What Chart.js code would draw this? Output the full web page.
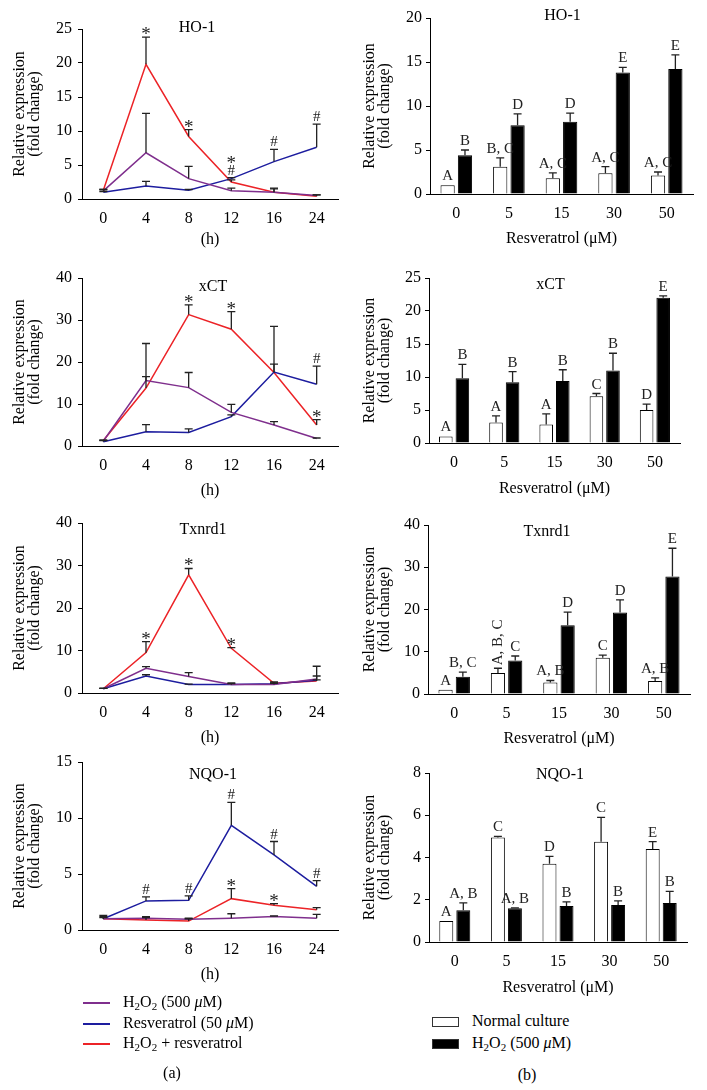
<!DOCTYPE html>
<html>
<head>
<meta charset="utf-8">
<title>Antioxidant gene expression</title>
<script src="https://cdn.jsdelivr.net/npm/chart.js@4.4.1/dist/chart.umd.min.js"></script>
<style>
  html, body { margin: 0; padding: 0; background: #fff; }
  #page { position: relative; width: 707px; height: 1090px; overflow: hidden;
          font-family: "Liberation Serif", "Times New Roman", serif; color: #000; }
  #page canvas { position: absolute; }
  .legend { position: absolute; font-size: 16px; }
  .legend .row { white-space: nowrap; }
  .legend .key { display: inline-block; vertical-align: middle; margin-right: 13px; }
  .legend .line { width: 27px; height: 0; border-top: 2px solid; }
  .legend .box { width: 25px; height: 8px; border: 1px solid #333; }
  sub { font-size: 11px; line-height: 0; vertical-align: -3px; }
  .tag { position: absolute; width: 60px; text-align: center; font-size: 16px; line-height: 20px; }
</style>
</head>
<body>
<div id="page">
  <canvas id="lineHo"></canvas>
  <canvas id="lineXct"></canvas>
  <canvas id="lineTx"></canvas>
  <canvas id="lineNqo"></canvas>
  <canvas id="barHo"></canvas>
  <canvas id="barXct"></canvas>
  <canvas id="barTx"></canvas>
  <canvas id="barNqo"></canvas>
  <div class="legend" id="legendA" style="left:83px; top:992px;"></div>
  <div class="legend" id="legendB" style="left:432px; top:1010px;"></div>
  <div class="tag" style="left:142px; top:1063px;">(a)</div>
  <div class="tag" style="left:497px; top:1065px;">(b)</div>
</div>

<script>
// ---------- (a) time course ----------
const hours = ['0', '4', '8', '12', '16', '24'];

// HO-1
const hoH2o2 = [1.2, 6.8, 3.0, 1.2, 1.0, 0.5];
const hoH2o2Err = [0.2, 5.8, 1.8, 0.4, 0.6, 0.1];
const hoRes = [1.0, 1.9, 1.3, 3.0, 5.5, 7.6];
const hoResErr = [0.1, 0.7, 0.1, 0.15, 1.8, 3.4];
const hoBoth = [1.3, 19.8, 9.2, 2.5, 1.0, 0.4];
const hoBothErr = [0.1, 4.0, 1.0, 0.3, 0.5, 0.2];
const hoResMarks = ['', '', '', '#', '#', '#'];
const hoBothMarks = ['', '*', '*', '*', '', ''];

// xCT
const xctH2o2 = [1.2, 15.6, 13.9, 8.0, 5.0, 1.8];
const xctH2o2Err = [0.2, 8.8, 3.6, 1.9, 0.8, 0.1];
const xctRes = [1.0, 3.4, 3.2, 7.0, 17.6, 14.7];
const xctResErr = [0.3, 1.7, 0.9, 0.4, 10.9, 4.3];
const xctBoth = [1.3, 13.8, 31.3, 27.8, 17.5, 5.0];
const xctBothErr = [0.1, 2.7, 2.3, 4.2, 2.0, 1.3];
const xctResMarks = ['', '', '', '', '', '#'];
const xctBothMarks = ['', '', '*', '*', '', '*'];

// Txnrd1
const txH2o2 = [1.0, 5.8, 3.9, 2.0, 2.0, 3.3];
const txH2o2Err = [0.1, 0.4, 0.9, 0.4, 0.3, 3.0];
const txRes = [1.0, 4.0, 2.0, 2.0, 2.2, 3.0];
const txResErr = [0.1, 0.3, 0.1, 0.2, 0.2, 1.0];
const txBoth = [1.0, 9.5, 27.8, 10.5, 2.3, 2.8];
const txBothErr = [0.1, 2.6, 1.5, 0.2, 0.3, 0.3];
const txResMarks = ['', '', '', '', '', ''];
const txBothMarks = ['', '*', '*', '*', '', ''];

// NQO-1
const nqoH2o2 = [1.0, 1.05, 0.95, 1.05, 1.2, 1.05];
const nqoH2o2Err = [0.3, 0.15, 0.1, 0.4, 0.05, 0.35];
const nqoRes = [1.0, 2.6, 2.65, 9.35, 6.7, 3.9];
const nqoResErr = [0.2, 0.35, 0.4, 2.05, 1.2, 0.5];
const nqoBoth = [1.0, 0.9, 0.8, 2.8, 2.2, 1.8];
const nqoBothErr = [0.1, 0.2, 0.2, 0.9, 0.15, 0.2];
const nqoResMarks = ['', '#', '#', '#', '#', '#'];
const nqoBothMarks = ['', '', '', '*', '*', ''];

// ---------- (b) resveratrol dose ----------
const doses = ['0', '5', '15', '30', '50'];

const bHoNormal = [1.0, 3.1, 1.8, 2.35, 2.1];
const bHoNormalErr = [0, 1.0, 0.6, 0.75, 0.4];
const bHoH2o2 = [4.4, 7.8, 8.2, 13.8, 14.2];
const bHoH2o2Err = [0.6, 1.3, 1.0, 0.6, 1.6];
const bHoNormalLetters = ['A', 'B, C', 'A, C', 'A, C', 'A, C'];
const bHoH2o2Letters = ['B', 'D', 'D', 'E', 'E'];

const bXctNormal = [1.0, 3.1, 2.8, 7.1, 5.0];
const bXctNormalErr = [0, 1.0, 1.6, 0.4, 0.9];
const bXctH2o2 = [9.8, 9.2, 9.4, 11.0, 22.0];
const bXctH2o2Err = [2.1, 1.6, 1.7, 2.6, 0.3];
const bXctNormalLetters = ['A', 'A', 'A', 'C', 'D'];
const bXctH2o2Letters = ['B', 'B', 'B', 'B', 'E'];

const bTxNormal = [1.0, 5.0, 2.7, 8.6, 3.1];
const bTxNormalErr = [0, 1.1, 0.5, 0.6, 0.7];
const bTxH2o2 = [4.1, 7.9, 16.3, 19.3, 27.8];
const bTxH2o2Err = [1.1, 1.1, 3.1, 3.0, 6.7];
const bTxNormalLetters = ['A', 'A, B, C', 'A, B', 'C', 'A, B'];
const bTxH2o2Letters = ['B, C', 'C', 'D', 'D', 'E'];

const bNqoNormal = [1.0, 4.95, 3.7, 4.75, 4.4];
const bNqoNormalErr = [0, 0.05, 0.35, 1.15, 0.35];
const bNqoH2o2 = [1.5, 1.6, 1.7, 1.75, 1.85];
const bNqoH2o2Err = [0.35, 0.02, 0.2, 0.2, 0.55];
const bNqoNormalLetters = ['A', 'C', 'D', 'C', 'E'];
const bNqoH2o2Letters = ['A, B', 'A, B', 'B', 'B', 'B'];

// ---------- look ----------
const FONT = '"Liberation Serif", "Times New Roman", serif';
const PURPLE = '#7f2f8d';
const BLUE = '#1d1d9f';
const RED = '#ec2327';
const ERR = '#222';

Chart.defaults.font.family = FONT;
Chart.defaults.font.size = 16;
Chart.defaults.color = '#000';

// error bars (upper half), * / # marks and letter groups
function extras(title, dx, dy) {
  return {
    id: 'extras',
    afterDatasetsDraw(chart) {
      const ctx = chart.ctx;
      const area = chart.chartArea;
      const yScale = chart.scales.y;
      ctx.save();

      ctx.font = '16px ' + FONT;
      ctx.fillStyle = '#000';
      ctx.textAlign = 'center';
      ctx.textBaseline = 'middle';
      ctx.fillText(title, (area.left + area.right) / 2 + dx, area.top + dy);

      ctx.strokeStyle = ERR;
      ctx.lineWidth = 1.3;
      const tops = [];
      chart.data.datasets.forEach((ds, d) => {
        const meta = chart.getDatasetMeta(d);
        tops[d] = [];
        ds.errors.forEach((e, i) => {
          const el = meta.data[i];
          const yTop = yScale.getPixelForValue(ds.data[i] + e);
          tops[d][i] = { x: el.x, y: yTop };
          if (e <= 0) return;
          ctx.beginPath();
          ctx.moveTo(el.x, el.y);
          ctx.lineTo(el.x, yTop);
          ctx.moveTo(el.x - 4, yTop);
          ctx.lineTo(el.x + 4, yTop);
          ctx.stroke();
        });
      });

      ctx.fillStyle = '#222';
      ctx.textAlign = 'center';
      ctx.textBaseline = 'alphabetic';
      const markFont = sym => (sym === '*' ? '19px ' : '15px ') + FONT;

      // significance marks on the time course
      chart.data.labels.forEach((lab, i) => {
        const items = [];
        chart.data.datasets.forEach((ds, d) => {
          if (ds.marks && ds.marks[i]) {
            items.push({ sym: ds.marks[i], x: tops[d][i].x, bottom: tops[d][i].y - 3 });
          }
        });
        items.sort((a, b) => b.bottom - a.bottom);
        if (items.length > 1 && items[0].bottom - items[1].bottom < 12) {
          // crowded: # sits nearest the line, * above it
          const start = Math.min(...items.map(it => it.bottom));
          items.forEach(it => { it.bottom = start; });
          items.sort((a, b) => (a.sym === '#' ? 0 : 1) - (b.sym === '#' ? 0 : 1));
        }
        let prevTop = Infinity;
        items.forEach(it => {
          ctx.font = markFont(it.sym);
          const m = ctx.measureText(it.sym);
          const bottom = Math.min(it.bottom, prevTop - 2);
          ctx.fillText(it.sym, it.x, bottom - m.actualBoundingBoxDescent);
          prevTop = bottom - m.actualBoundingBoxAscent - m.actualBoundingBoxDescent;
        });
      });

      // letter groups on the bars
      ctx.font = '15px ' + FONT;
      chart.data.datasets.forEach((ds, d) => {
        if (!ds.letters) return;
        ds.letters.forEach((txt, i) => {
          if (!txt) return;
          const t = tops[d][i];
          const w = ctx.measureText(txt).width;
          if (w > 36) {
            ctx.save();
            ctx.translate(t.x, t.y - 3);
            ctx.rotate(-Math.PI / 2);
            ctx.textAlign = 'left';
            ctx.textBaseline = 'middle';
            ctx.fillText(txt, 0, 0);
            ctx.restore();
          } else {
            ctx.fillText(txt, t.x, t.y - 5);
          }
        });
      });
      ctx.restore();
    }
  };
}

function scales(box, yMax, yStep, xLabel) {
  return {
    x: {
      offset: true,
      grid: { display: false, drawTicks: false },
      border: { display: true, color: '#000', width: 1 },
      ticks: { padding: 10, maxRotation: 0, autoSkip: false, font: { size: 16 } },
      title: { display: true, text: xLabel, font: { size: 16 }, padding: { top: 0, bottom: box.xTitlePad } },
      afterFit: s => { s.height = 56; }
    },
    y: {
      min: 0,
      max: yMax,
      ticks: { stepSize: yStep, padding: box.tickPad, font: { size: 16 } },
      grid: { drawOnChartArea: false, tickLength: 4, color: '#000', lineWidth: 1 },
      border: { display: true, color: '#000', width: 1 },
      title: {
        display: true,
        text: ['Relative expression', '(fold change)'],
        font: { size: 16, lineHeight: 0.95 },
        padding: { top: 12, bottom: 0 }
      },
      afterFit: s => { s.width = box.yW; }
    }
  };
}

function place(id, box) {
  const canvas = document.getElementById(id);
  canvas.width = box.w;
  canvas.height = box.h;
  canvas.style.left = box.x + 'px';
  canvas.style.top = box.y + 'px';
  return canvas;
}

function lineChart(id, box, t, yMax, yStep, h2o2, h2o2Err, res, resErr, resMarks, both, bothErr, bothMarks) {
  const base = { pointRadius: 0, borderWidth: 1.5, tension: 0, fill: false };
  return new Chart(place(id, box), {
    type: 'line',
    data: {
      labels: hours,
      datasets: [
        Object.assign({ label: 'H2O2 (500 μM)', data: h2o2, errors: h2o2Err, borderColor: PURPLE }, base),
        Object.assign({ label: 'Resveratrol (50 μM)', data: res, errors: resErr, marks: resMarks, borderColor: BLUE }, base),
        Object.assign({ label: 'H2O2 + resveratrol', data: both, errors: bothErr, marks: bothMarks, borderColor: RED }, base)
      ]
    },
    options: {
      responsive: false,
      animation: false,
      layout: { padding: { top: 16, right: box.padR, bottom: 0, left: 0 } },
      plugins: { legend: { display: false }, tooltip: { enabled: false } },
      scales: scales(box, yMax, yStep, '(h)')
    },
    plugins: [extras(t.title, t.dx, t.dy)]
  });
}

function barChart(id, box, t, yMax, yStep, normal, normalErr, normalLetters, h2o2, h2o2Err, h2o2Letters) {
  const base = { borderWidth: 1, borderColor: '#000', categoryPercentage: 0.66, barPercentage: 0.82 };
  return new Chart(place(id, box), {
    type: 'bar',
    data: {
      labels: doses,
      datasets: [
        Object.assign({ label: 'Normal culture', data: normal, errors: normalErr, letters: normalLetters, backgroundColor: '#fff' }, base),
        Object.assign({ label: 'H2O2 (500 μM)', data: h2o2, errors: h2o2Err, letters: h2o2Letters, backgroundColor: '#000' }, base)
      ]
    },
    options: {
      responsive: false,
      animation: false,
      layout: { padding: { top: 16, right: box.padR, bottom: 0, left: 0 } },
      plugins: { legend: { display: false }, tooltip: { enabled: false } },
      scales: scales(box, yMax, yStep, 'Resveratrol (μM)')
    },
    plugins: [extras(t.title, t.dx, t.dy)]
  });
}

// panel boxes: canvas x/y/w/h, y-axis width, right padding
const L = { x: 0, w: 350, yW: 82, padR: 12, tickPad: 6 };
lineChart('lineHo', Object.assign({ y: 13, h: 242, xTitlePad: 6 }, L), { title: 'HO-1', dx: -13, dy: -1 },
  25, 5, hoH2o2, hoH2o2Err, hoRes, hoResErr, hoResMarks, hoBoth, hoBothErr, hoBothMarks);
lineChart('lineXct', Object.assign({ y: 262, h: 240, xTitlePad: 2 }, L), { title: 'xCT', dx: 3, dy: 9 },
  40, 10, xctH2o2, xctH2o2Err, xctRes, xctResErr, xctResMarks, xctBoth, xctBothErr, xctBothMarks);
lineChart('lineTx', Object.assign({ y: 507, h: 242, xTitlePad: 2 }, L), { title: 'Txnrd1', dx: -7, dy: 7 },
  40, 10, txH2o2, txH2o2Err, txRes, txResErr, txResMarks, txBoth, txBothErr, txBothMarks);
lineChart('lineNqo', Object.assign({ y: 746, h: 240, xTitlePad: 2 }, L), { title: 'NQO-1', dx: 3, dy: 13 },
  15, 5, nqoH2o2, nqoH2o2Err, nqoRes, nqoResErr, nqoResMarks, nqoBoth, nqoBothErr, nqoBothMarks);

barChart('barHo', { x: 350, y: 2, w: 357, h: 248, yW: 80, padR: 14, tickPad: 4, xTitlePad: 2 }, { title: 'HO-1', dx: 1, dy: -2 },
  20, 5, bHoNormal, bHoNormalErr, bHoNormalLetters, bHoH2o2, bHoH2o2Err, bHoH2o2Letters);
barChart('barXct', { x: 350, y: 262, w: 357, h: 237, yW: 79, padR: 27, tickPad: 4, xTitlePad: 1 }, { title: 'xCT', dx: -4, dy: 7 },
  25, 5, bXctNormal, bXctNormalErr, bXctNormalLetters, bXctH2o2, bXctH2o2Err, bXctH2o2Letters);
barChart('barTx', { x: 350, y: 509, w: 357, h: 241, yW: 78, padR: 17, tickPad: 4, xTitlePad: 2 }, { title: 'Txnrd1', dx: -12, dy: 7 },
  40, 10, bTxNormal, bTxNormalErr, bTxNormalLetters, bTxH2o2, bTxH2o2Err, bTxH2o2Letters);
barChart('barNqo', { x: 350, y: 757, w: 357, h: 241, yW: 79, padR: 20, tickPad: 4, xTitlePad: 1 }, { title: 'NQO-1', dx: 2, dy: 2 },
  8, 2, bNqoNormal, bNqoNormalErr, bNqoNormalLetters, bNqoH2o2, bNqoH2o2Err, bNqoH2o2Letters);

// legends
const legendA = [
  [PURPLE, 'H<sub>2</sub>O<sub>2</sub> (500 <i>μ</i>M)'],
  [BLUE, 'Resveratrol (50 <i>μ</i>M)'],
  [RED, 'H<sub>2</sub>O<sub>2</sub> + resveratrol']
];
document.getElementById('legendA').innerHTML = legendA.map(r =>
  '<div class="row" style="height:20.5px;line-height:20.5px"><span class="key line" style="border-color:' + r[0] + '"></span>' + r[1] + '</div>'
).join('');

const legendB = [
  ['#fff', 'Normal culture'],
  ['#000', 'H<sub>2</sub>O<sub>2</sub> (500 <i>μ</i>M)']
];
document.getElementById('legendB').innerHTML = legendB.map(r =>
  '<div class="row" style="height:22px;line-height:22px"><span class="key box" style="background:' + r[0] + '"></span>' + r[1] + '</div>'
).join('');
</script>
</body>
</html>
